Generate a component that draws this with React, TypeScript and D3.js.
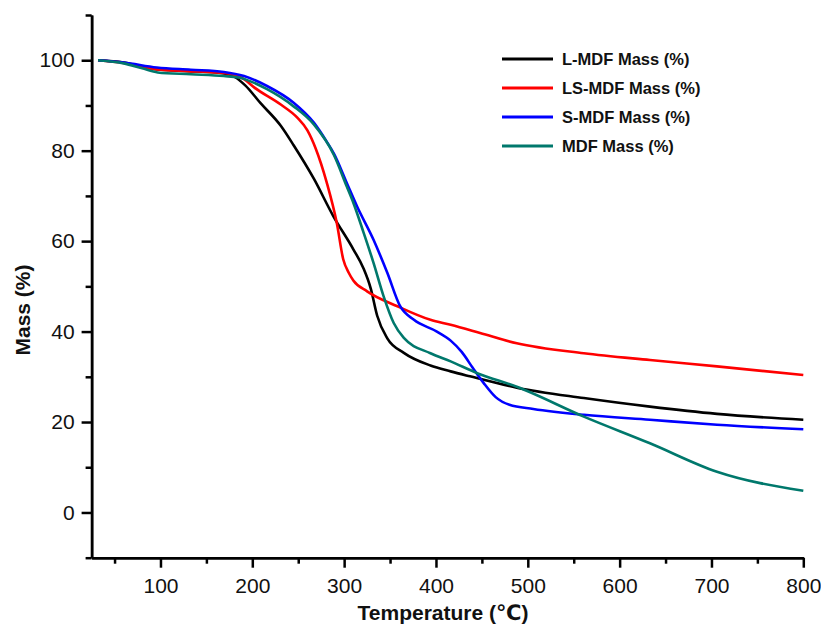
import * as d3 from "d3";
import { useEffect, useRef } from "react";

// TGA curves: [temperature °C, mass %]
const lmdf: [number, number][] = [
  [32, 100], [60, 99.5], [80, 98.6], [100, 97.9], [130, 97.6], [160, 97.3], [178, 96.6],
  [192, 94.5], [209, 90.5], [231, 85.5], [245, 81.2], [267, 73.8], [288, 65.6], [310, 58.2],
  [321, 54], [329, 49.5], [336, 43.5], [347, 38.5], [365, 35.3], [394, 32.5], [416, 31.2],
  [437, 30.1], [488, 27.6], [561, 25.3], [633, 23.4], [706, 21.8], [800, 20.5],
];
const lsmdf: [number, number][] = [
  [32, 100], [60, 99.4], [100, 97.9], [130, 97.6], [160, 97.3], [176, 97], [191, 95.8],
  [202, 94], [231, 90.2], [249, 87.3], [260, 84.5], [269, 80.5], [281, 73], [292, 64],
  [299, 56], [305, 53], [310, 51.3], [325, 48.9], [358, 45.6], [394, 42.6], [416, 41.5],
  [448, 39.7], [488, 37.4], [561, 35.2], [633, 33.7], [706, 32.3], [800, 30.4],
];
const smdf: [number, number][] = [
  [32, 100], [60, 99.5], [96, 98.4], [133, 97.9], [169, 97.4], [191, 96.5], [216, 94.3],
  [245, 90.6], [267, 86.2], [281, 82], [289, 79.3], [303, 72.8], [314, 67.7], [332, 60.3],
  [347, 53], [361, 45.6], [376, 42.6], [401, 40], [416, 38], [428, 35.5], [440, 32],
  [452, 28.6], [465, 25.5], [480, 23.8], [506, 22.9], [561, 21.6], [633, 20.5], [706, 19.4],
  [800, 18.4],
];
const mdf: [number, number][] = [
  [32, 100], [60, 99.3], [80, 98.2], [97, 97.3], [133, 96.9], [169, 96.5], [185, 96.2],
  [216, 93.6], [245, 89.8], [267, 85.8], [289, 79], [303, 72], [310, 68.5], [321, 62],
  [332, 55.2], [343, 47.8], [354, 41.9], [365, 38.6], [394, 35.2], [416, 33.4], [445, 30.8],
  [488, 27.8], [561, 21.2], [633, 15.3], [706, 9.0], [800, 4.8],
];

const seriesNames = ["L-MDF Mass (%)", "LS-MDF Mass (%)", "S-MDF Mass (%)", "MDF Mass (%)"];
const seriesData = [lmdf, lsmdf, smdf, mdf];
const seriesColors = ["#000000", "#ff0000", "#0000ff", "#00786c"];

const xMajor = [100, 200, 300, 400, 500, 600, 700, 800];
const xMinor = [50, 150, 250, 350, 450, 550, 650, 750];
const yMajor = [0, 20, 40, 60, 80, 100];
const yMinor = [-10, 10, 30, 50, 70, 90, 110];

export default function App() {
  const svgRef = useRef<SVGSVGElement>(null);

  useEffect(() => {
    const svg = d3.select(svgRef.current);
    svg.selectAll("*").remove();

    const width = 821;
    const height = 624;
    const font = "'Liberation Sans', Arial, 'DejaVu Sans', sans-serif";

    const x = d3.scaleLinear().domain([25, 800]).range([91.6, 803.3]);
    const y = d3.scaleLinear().domain([-10, 110]).range([557.7, 15]);

    svg.attr("viewBox", `0 0 ${width} ${height}`);

    // X axis (minor ticks in their own group so the major call doesn't drop them)
    svg.append("g")
      .attr("transform", `translate(0,${y(-10)})`)
      .call(d3.axisBottom(x).tickValues(xMinor).tickSize(6).tickSizeOuter(0).tickFormat(() => ""));
    svg.append("g")
      .attr("transform", `translate(0,${y(-10)})`)
      .call(
        d3.axisBottom(x).tickValues(xMajor).tickSize(10).tickSizeOuter(0).tickPadding(10)
          .tickFormat(d3.format("d"))
      );

    // Y axis
    svg.append("g")
      .attr("transform", `translate(${x(25)},0)`)
      .call(d3.axisLeft(y).tickValues(yMinor).tickSize(6).tickSizeOuter(0).tickFormat(() => ""));
    svg.append("g")
      .attr("transform", `translate(${x(25)},0)`)
      .call(
        d3.axisLeft(y).tickValues(yMajor).tickSize(10).tickSizeOuter(0).tickPadding(7)
          .tickFormat(d3.format("d"))
      );

    svg.selectAll(".domain").attr("stroke", "#000").attr("stroke-width", 2.5);
    svg.selectAll(".tick line").attr("stroke", "#000").attr("stroke-width", 2.5);
    svg.selectAll(".tick text")
      .attr("font-family", font)
      .attr("font-size", 21)
      .attr("fill", "#111");

    // Curves
    const line = d3.line<[number, number]>()
      .x(d => x(d[0]))
      .y(d => y(d[1]))
      .curve(d3.curveMonotoneX);

    seriesData.forEach((data, i) => {
      svg.append("path")
        .datum(data)
        .attr("fill", "none")
        .attr("stroke", seriesColors[i])
        .attr("stroke-width", 2.6)
        .attr("stroke-linejoin", "round")
        .attr("d", line);
    });

    // Axis titles
    svg.append("text")
      .attr("x", 443)
      .attr("y", 620)
      .attr("text-anchor", "middle")
      .attr("font-family", font)
      .attr("font-weight", "bold")
      .attr("font-size", 21)
      .attr("fill", "#111")
      .text("Temperature (℃)");

    svg.append("text")
      .attr("transform", "translate(30,310) rotate(-90)")
      .attr("text-anchor", "middle")
      .attr("font-family", font)
      .attr("font-weight", "bold")
      .attr("font-size", 21)
      .attr("fill", "#111")
      .text("Mass (%)");

    // Legend
    const legend = svg.append("g").attr("transform", "translate(502,59)");
    seriesNames.forEach((name, i) => {
      const row = legend.append("g").attr("transform", `translate(0,${i * 29})`);
      row.append("line")
        .attr("x1", 0)
        .attr("x2", 51)
        .attr("stroke", seriesColors[i])
        .attr("stroke-width", 3.2);
      row.append("text")
        .attr("x", 60)
        .attr("dy", "0.36em")
        .attr("font-family", font)
        .attr("font-weight", "bold")
        .attr("font-size", 16.5)
        .attr("fill", "#111")
        .text(name);
    });
  }, []);

  return (
    <svg
      ref={svgRef}
      width={821}
      height={624}
      style={{ position: "absolute", left: 0, top: 0, background: "#fff" }}
    />
  );
}
